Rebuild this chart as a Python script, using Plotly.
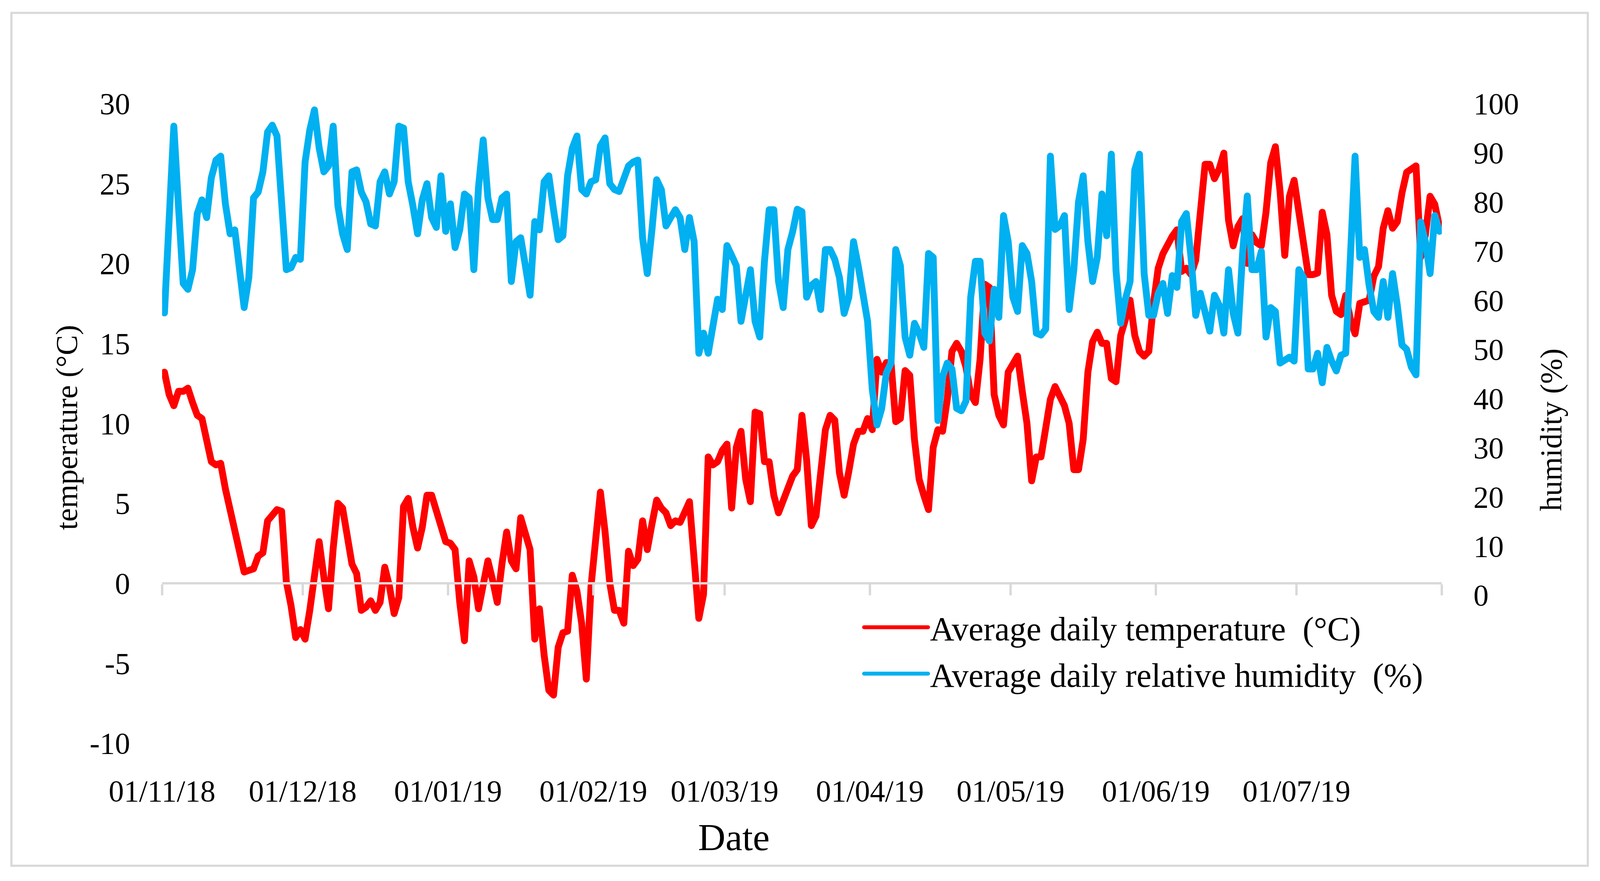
import plotly.graph_objects as go
import pandas as pd

# ---------------- data ----------------
start_date = "2018-11-01 12:00"

temperature = [
    13.2, 11.8, 11.1, 12.0, 12.0, 12.2, 11.3, 10.5, 10.3, 9.0,
    7.6, 7.4, 7.5, 5.9, 4.5, 3.5, 2.0, 0.7, 0.8, 0.9,
    1.7, 1.9, 3.9, 4.3, 4.6, 4.5, 0.1, -1.4, -3.4, -2.9,
    -3.5, -1.7, 0.5, 2.6, 0.4, -1.6, 2.2, 5.0, 4.7, 3.1,
    1.2, 0.6, -1.7, -1.5, -1.1, -1.7, -1.2, 1.0, -0.2, -1.9,
    -0.9, 4.8, 5.3, 3.5, 2.2, 3.5, 5.5, 5.5, 4.5, 3.5,
    2.6, 2.5, 2.1, -1.2, -3.6, 1.4, 0.4, -1.6, 0.2, 1.4,
    0.2, -1.2, 1.2, 3.2, 1.4, 0.9, 4.1, 2.9, 2.1, -3.5,
    -1.6, -4.5, -6.7, -7.0, -4.0, -3.1, -3.0, 0.5, -0.5, -2.5,
    -6.0, -0.2, 3.0, 5.7, 3.2, 0.0, -1.7, -1.7, -2.5, 2.0,
    1.1, 1.5, 3.9, 2.1, 3.7, 5.2, 4.7, 4.4, 3.6, 3.9,
    3.8, 4.6, 5.1, 1.5, -2.2, -0.7, 7.9, 7.4, 7.6, 8.3,
    8.7, 4.7, 8.5, 9.5, 6.5, 5.1, 10.7, 10.6, 7.6, 7.6,
    5.5, 4.4, 5.2, 6.1, 6.7, 7.1, 10.5, 7.7, 3.6, 4.2,
    7.4, 9.6, 10.5, 10.2, 6.9, 5.5, 7.0, 8.7, 9.5, 9.5,
    10.3, 9.6, 14.0, 13.2, 13.8, 13.8, 10.1, 10.3, 13.3, 13.0,
    9.0, 6.5, 5.5, 4.6, 8.5, 9.6, 9.5, 11.5, 14.5, 15.0,
    14.5, 13.5, 11.8, 11.3, 14.0, 18.7, 18.5, 11.8, 10.5, 9.9,
    13.2, 13.8, 14.2, 12.0, 10.0, 6.4, 7.9, 7.9, 9.7, 11.5,
    12.3, 11.7, 11.1, 10.0, 7.1, 7.1, 9.0, 13.2, 15.1, 15.7,
    15.0, 15.0, 12.8, 12.6, 15.5, 16.5, 17.7, 15.5, 14.5, 14.2,
    14.5, 17.5, 19.7, 20.6, 21.2, 21.7, 22.1, 19.5, 19.7, 19.3,
    20.2, 23.7, 26.2, 26.2, 25.3, 25.9, 26.9, 22.7, 21.1, 22.3,
    22.8, 20.0, 21.8, 21.3, 21.1, 23.2, 26.3, 27.3, 24.5, 20.5,
    24.2, 25.2, 23.2, 20.7, 19.3, 19.3, 19.4, 23.2, 21.8, 18.0,
    17.0, 16.8, 18.0, 16.5, 15.6, 17.5, 17.6, 17.7, 19.2, 19.8,
    22.2, 23.3, 22.2, 22.6, 24.4, 25.7, 25.9, 26.1, 20.4, 21.8,
    24.2, 23.7, 22.3,
]

humidity = [
    57.4, 76.8, 95.4, 79.0, 63.4, 62.2, 66.2, 77.6, 80.4, 76.8,
    84.9, 88.5, 89.3, 79.6, 73.5, 74.3, 67.0, 58.5, 64.6, 80.8,
    82.0, 86.1, 94.2, 95.6, 93.4, 79.2, 66.2, 66.6, 68.7, 68.3,
    88.1, 94.6, 98.7, 91.0, 86.1, 87.3, 95.4, 79.2, 73.5, 70.3,
    86.1, 86.5, 82.0, 80.0, 75.5, 75.1, 84.1, 86.1, 81.6, 84.1,
    95.4, 95.0, 84.1, 79.2, 73.5, 80.4, 83.7, 76.8, 74.8, 85.3,
    74.0, 79.6, 70.7, 74.3, 81.6, 80.8, 66.2, 83.0, 92.6, 80.8,
    76.4, 76.4, 80.8, 81.6, 63.8, 71.9, 72.7, 67.0, 61.0, 76.0,
    74.3, 84.1, 85.3, 78.4, 72.3, 73.1, 85.3, 90.9, 93.4, 82.5,
    81.6, 84.1, 84.5, 91.4, 93.0, 83.7, 82.5, 82.1, 84.5, 87.3,
    88.1, 88.5, 72.7, 65.4, 74.3, 84.5, 82.5, 75.1, 76.8, 78.4,
    76.8, 70.3, 76.8, 71.9, 49.2, 53.3, 49.2, 54.1, 60.2, 58.1,
    71.1, 69.1, 67.0, 55.7, 62.2, 66.2, 55.7, 52.5, 67.9, 78.4,
    78.4, 63.8, 58.5, 70.3, 73.9, 78.5, 78.0, 60.6, 63.0, 63.8,
    58.1, 70.3, 70.3, 68.3, 64.6, 57.3, 60.6, 71.9, 67.0, 62.2,
    55.7, 41.9, 34.6, 37.9, 45.2, 47.2, 70.3, 67.0, 52.5, 48.8,
    55.3, 53.3, 50.4, 69.5, 68.7, 35.5, 44.4, 47.2, 46.0, 38.0,
    37.5, 39.5, 60.6, 67.9, 67.9, 53.3, 51.7, 62.2, 56.5, 77.2,
    71.9, 60.6, 57.7, 71.1, 69.5, 63.8, 53.3, 52.9, 54.1, 89.3,
    74.4, 75.1, 77.2, 58.1, 66.2, 80.0, 85.3, 71.9, 63.8, 68.7,
    81.6, 73.1, 89.7, 66.0, 55.3, 60.2, 63.8, 86.5, 89.7, 65.4,
    56.9, 56.9, 61.4, 63.4, 57.3, 65.0, 62.6, 76.0, 77.6, 68.7,
    56.9, 61.4, 58.1, 53.7, 61.0, 59.0, 53.3, 66.2, 57.3, 53.3,
    69.5, 81.2, 66.2, 66.2, 69.9, 52.5, 58.5, 57.7, 47.2, 47.6,
    48.4, 47.6, 66.2, 64.6, 46.0, 46.0, 49.2, 43.2, 50.4, 47.6,
    45.6, 48.8, 49.2, 68.7, 89.3, 68.7, 70.3, 63.0, 57.7, 56.5,
    63.8, 56.5, 65.4, 59.0, 50.9, 50.0, 46.4, 44.8, 75.9, 71.9,
    65.4, 77.2, 74.0,
]

temp_ticks = [-10, -5, 0, 5, 10, 15, 20, 25, 30]
temp_tick_labels = ["-10", "-5", "0", "5", "10", "15", "20", "25", "30"]
hum_ticks = [0, 10, 20, 30, 40, 50, 60, 70, 80, 90, 100]
x_tick_dates = ["2018-11-01", "2018-12-01", "2019-01-01", "2019-02-01",
                "2019-03-01", "2019-04-01", "2019-05-01", "2019-06-01",
                "2019-07-01"]
x_tick_labels = ["01/11/18", "01/12/18", "01/01/19", "01/02/19", "01/03/19",
                 "01/04/19", "01/05/19", "01/06/19", "01/07/19"]
x_range = ["2018-11-01", "2019-08-01"]
series_names = ["Average daily temperature \u00a0(°C)",
                "Average daily relative humidity \u00a0(%)"]

dates = pd.date_range(start_date, periods=len(temperature), freq="D")

# ---------------- figure ----------------
W, H = 4427, 2255
ML, MR, MT, MB = 448, 438, 265, 353
PW, PH = W - ML - MR, H - MT - MB
FONT = "Liberation Serif"
GRAY = "#D9D9D9"
LINE_W = 19


def px_x(p):
    return (p - ML) / PW


def px_y(p):
    return (H - MB - p) / PH


fig = go.Figure()
fig.add_trace(go.Scatter(
    x=dates, y=temperature, name=series_names[0], mode="lines",
    line=dict(color="#FF0000", width=LINE_W), yaxis="y", xaxis="x",
    legendgroup="a"))
fig.add_trace(go.Scatter(
    x=dates, y=humidity, name=series_names[1], mode="lines",
    line=dict(color="#00B0F0", width=LINE_W), yaxis="y2", xaxis="x",
    legendgroup="b"))

tickfont = dict(family=FONT, size=84, color="#000000")

fig.update_layout(
    width=W, height=H,
    margin=dict(l=ML, r=MR, t=MT, b=MB, pad=0, autoexpand=False),
    paper_bgcolor="white", plot_bgcolor="white",
    showlegend=True,
    legend=dict(x=px_x(2385), y=px_y(1543), xanchor="left", yanchor="top",
                font=dict(family=FONT, size=93, color="#000000"),
                bgcolor="rgba(0,0,0,0)", itemwidth=177,
                traceorder="grouped", tracegroupgap=4),
    xaxis=dict(type="date", range=x_range, tickvals=x_tick_dates,
               ticktext=x_tick_labels, showgrid=False, zeroline=False,
               showline=False, ticks="", tickfont=tickfont,
               ticklabelstandoff=70),
    xaxis2=dict(type="date", range=x_range, tick0="2018-11-01", dtick="M1",
                overlaying="x", anchor="free", position=0.25,
                showgrid=False, zeroline=False, showline=True,
                linecolor=GRAY, linewidth=6, ticks="outside", ticklen=28,
                tickwidth=6, tickcolor=GRAY, showticklabels=False),
    yaxis=dict(range=[-10, 30], tickvals=temp_ticks,
               ticktext=temp_tick_labels, showgrid=False,
               zeroline=False, showline=False, ticks="", tickfont=tickfont,
               ticklabelstandoff=88),
    yaxis2=dict(range=[-30.1, 100], tickvals=hum_ticks, overlaying="y",
                side="right", showgrid=False, zeroline=False,
                showline=False, ticks="", tickfont=tickfont,
                ticklabelstandoff=86),
)

# invisible helper trace so the zero-line axis is drawn
fig.add_trace(go.Scatter(x=[dates[0]], y=[temperature[0]], xaxis="x2",
                         yaxis="y", mode="lines", showlegend=False,
                         hoverinfo="skip", line=dict(width=0),
                         opacity=0))

# outer chart border
fig.add_shape(type="rect", xref="paper", yref="paper",
              x0=px_x(31), x1=px_x(4393), y0=px_y(2216), y1=px_y(33),
              line=dict(color=GRAY, width=6), fillcolor="rgba(0,0,0,0)",
              layer="below")

fig.add_annotation(text="temperature (°C)", xref="paper", yref="paper",
                   x=px_x(184), y=px_y(1094), showarrow=False, textangle=-90,
                   font=dict(family=FONT, size=84, color="#000000"),
                   xanchor="center", yanchor="middle")
fig.add_annotation(text="humidity (%)", xref="paper", yref="paper",
                   x=px_x(4292), y=px_y(1100), showarrow=False, textangle=-90,
                   font=dict(family=FONT, size=84, color="#000000"),
                   xanchor="center", yanchor="middle")
fig.add_annotation(text="Date", xref="paper", yref="paper",
                   x=px_x(2030), y=px_y(2143), showarrow=False,
                   font=dict(family=FONT, size=105, color="#000000"),
                   xanchor="center", yanchor="middle")

# Fit the figure to the actual browser viewport (keeps text undistorted)
post = """
(function(){
  document.body.style.margin = '0';
  document.body.style.overflow = 'hidden';
  var gd = document.getElementById('{plot_id}');
  var W = %d, H = %d, LW = %f;
  function styleLines(){
    document.querySelectorAll('.scatterlayer path.js-line, .legendlines path').forEach(function(p){
      p.style.strokeLinejoin = 'round'; p.style.strokeLinecap = 'round';
    });
  }
  var vw = window.innerWidth, vh = window.innerHeight;
  if (!vw || !vh || (Math.abs(vw - W) < 2 && Math.abs(vh - H) < 2)) { styleLines(); return; }
  var sx = vw / W, sy = vh / H, s = Math.min(sx, sy);
  var L = gd.layout;
  var upd = {
    'width': vw, 'height': vh,
    'margin.l': L.margin.l * sx, 'margin.r': L.margin.r * sx,
    'margin.t': L.margin.t * sy, 'margin.b': L.margin.b * sy,
    'xaxis.tickfont.size': L.xaxis.tickfont.size * s,
    'xaxis.ticklabelstandoff': Math.round(L.xaxis.ticklabelstandoff * sy),
    'yaxis.tickfont.size': L.yaxis.tickfont.size * s,
    'yaxis.ticklabelstandoff': Math.round(L.yaxis.ticklabelstandoff * sx),
    'yaxis2.tickfont.size': L.yaxis2.tickfont.size * s,
    'yaxis2.ticklabelstandoff': Math.round(L.yaxis2.ticklabelstandoff * sx),
    'xaxis2.linewidth': L.xaxis2.linewidth * s,
    'xaxis2.ticklen': L.xaxis2.ticklen * sy,
    'xaxis2.tickwidth': L.xaxis2.tickwidth * s,
    'legend.font.size': L.legend.font.size * s,
    'legend.itemwidth': Math.max(30, L.legend.itemwidth * sx),
    'legend.tracegroupgap': L.legend.tracegroupgap * sy
  };
  (L.annotations || []).forEach(function(a, i){
    upd['annotations[' + i + '].font.size'] = a.font.size * s;
  });
  (L.shapes || []).forEach(function(sh, i){
    upd['shapes[' + i + '].line.width'] = sh.line.width * s;
  });
  Plotly.relayout(gd, upd).then(function(){
    return Plotly.restyle(gd, {'line.width': [LW * s, LW * s]}, [0, 1]);
  }).then(styleLines);
})();
""" % (W, H, LINE_W)

fig.write_html("out.html", post_script=post,
               config={"displayModeBar": False})
